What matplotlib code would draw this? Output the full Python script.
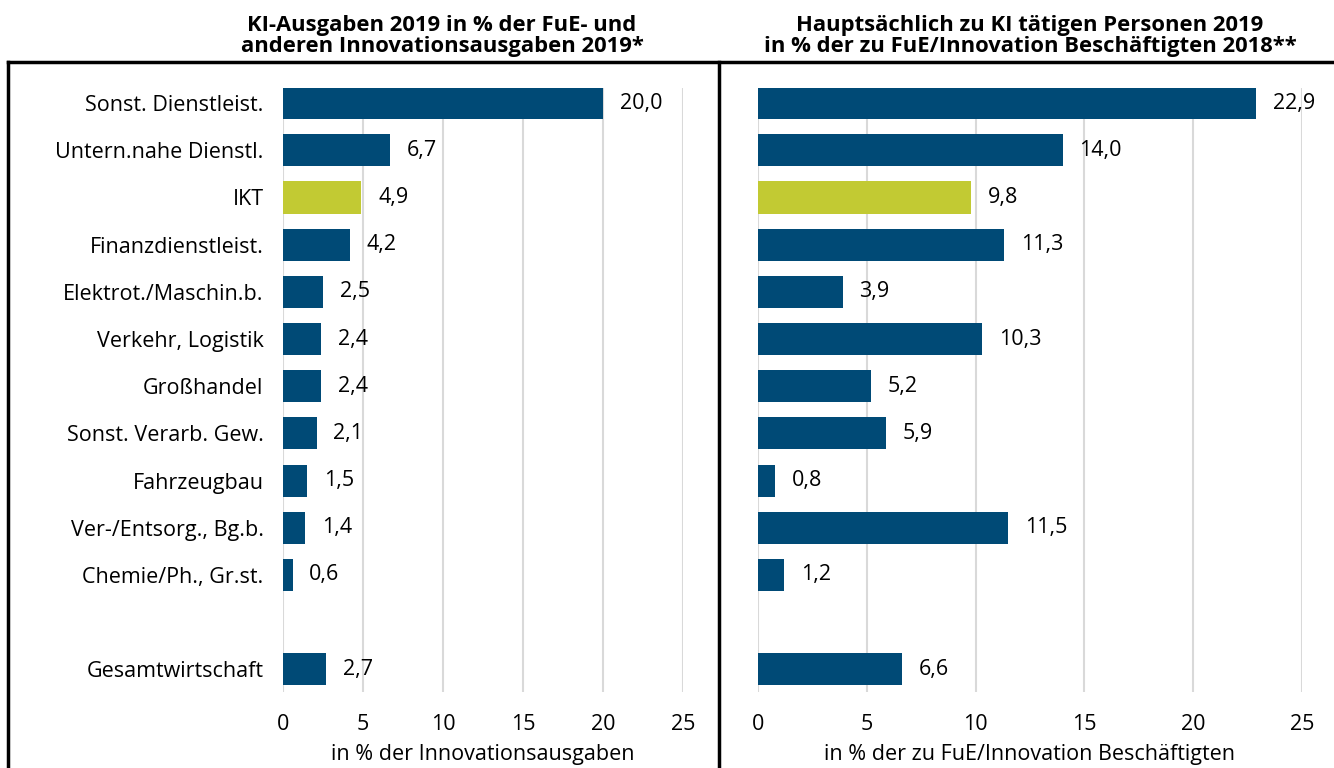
import matplotlib
matplotlib.use("Agg")
import matplotlib.pyplot as plt
from matplotlib.lines import Line2D

categories = [
    "Sonst. Dienstleist.",
    "Untern.nahe Dienstl.",
    "IKT",
    "Finanzdienstleist.",
    "Elektrot./Maschin.b.",
    "Verkehr, Logistik",
    "Großhandel",
    "Sonst. Verarb. Gew.",
    "Fahrzeugbau",
    "Ver-/Entsorg., Bg.b.",
    "Chemie/Ph., Gr.st.",
    "Gesamtwirtschaft",
]
ausgaben = [20.0, 6.7, 4.9, 4.2, 2.5, 2.4, 2.4, 2.1, 1.5, 1.4, 0.6, 2.7]
personen = [22.9, 14.0, 9.8, 11.3, 3.9, 10.3, 5.2, 5.9, 0.8, 11.5, 1.2, 6.6]
positions = [0, 1, 2, 3, 4, 5, 6, 7, 8, 9, 10, 12]
highlight = "IKT"
xticks = [0, 5, 10, 15, 20, 25]

title_left = "KI-Ausgaben 2019 in % der FuE- und\nanderen Innovationsausgaben 2019*"
title_right = "Hauptsächlich zu KI tätigen Personen 2019\nin % der zu FuE/Innovation Beschäftigten 2018**"
xlabel_left = "in % der Innovationsausgaben"
xlabel_right = "in % der zu FuE/Innovation Beschäftigten"

BLUE = "#004a76"
GREEN = "#c2ca33"
GRID = "#d9d9d9"
FS = 15.5

plt.rcParams["font.family"] = ["Open Sans", "DejaVu Sans"]
plt.rcParams["font.size"] = FS

fig = plt.figure(figsize=(13.34, 7.68), dpi=100)
W, H = 1334, 768


def px_axes(x0, x1, y0, y1):
    return fig.add_axes([x0 / W, 1 - y1 / H, (x1 - x0) / W, (y1 - y0) / H])


def draw_panel(ax, values, xlabel, show_labels):
    colors = [GREEN if c == highlight else BLUE for c in categories]
    ax.barh(positions, values, height=0.68, color=colors, zorder=2)
    for p, v in zip(positions, values):
        ax.annotate(f"{v:.1f}".replace(".", ","), (v, p), xytext=(12, 0),
                    textcoords="offset points", va="center", ha="left",
                    fontsize=FS, color="black", zorder=3)
    ax.set_xlim(0, 25)
    ax.set_ylim(12.48, -0.32)
    ax.set_xticks(xticks)
    ax.set_xticklabels([str(t) for t in xticks])
    ax.set_yticks(positions)
    if show_labels:
        ax.set_yticklabels(categories)
    else:
        ax.set_yticklabels([])
    ax.tick_params(axis="both", length=0, labelsize=FS)
    ax.tick_params(axis="x", pad=16)
    ax.tick_params(axis="y", pad=14)
    ax.xaxis.grid(True, color=GRID, linewidth=1.5, zorder=0)
    ax.set_axisbelow(True)
    for s in ax.spines.values():
        s.set_visible(False)
    ax.set_xlabel(xlabel, fontsize=FS, labelpad=6)


ax1 = px_axes(283, 683, 88, 692)
draw_panel(ax1, ausgaben, xlabel_left, True)

ax2 = px_axes(758, 1302, 88, 692)
draw_panel(ax2, personen, xlabel_right, False)

fig.text(442 / W, 1 - 36 / H, title_left, ha="center", va="center",
         fontsize=15.8, fontweight="bold", linespacing=1.0)
fig.text(1030 / W, 1 - 36 / H, title_right, ha="center", va="center",
         fontsize=15.8, fontweight="bold", linespacing=1.0)

# frame lines
for xs, ys in [((8, W), (62, 62)), ((8, 8), (62, H)), ((719, 719), (62, H))]:
    fig.add_artist(Line2D([x / W for x in xs], [1 - y / H for y in ys],
                          color="black", linewidth=2.5, transform=fig.transFigure))

fig.savefig("out.png", dpi=100)
